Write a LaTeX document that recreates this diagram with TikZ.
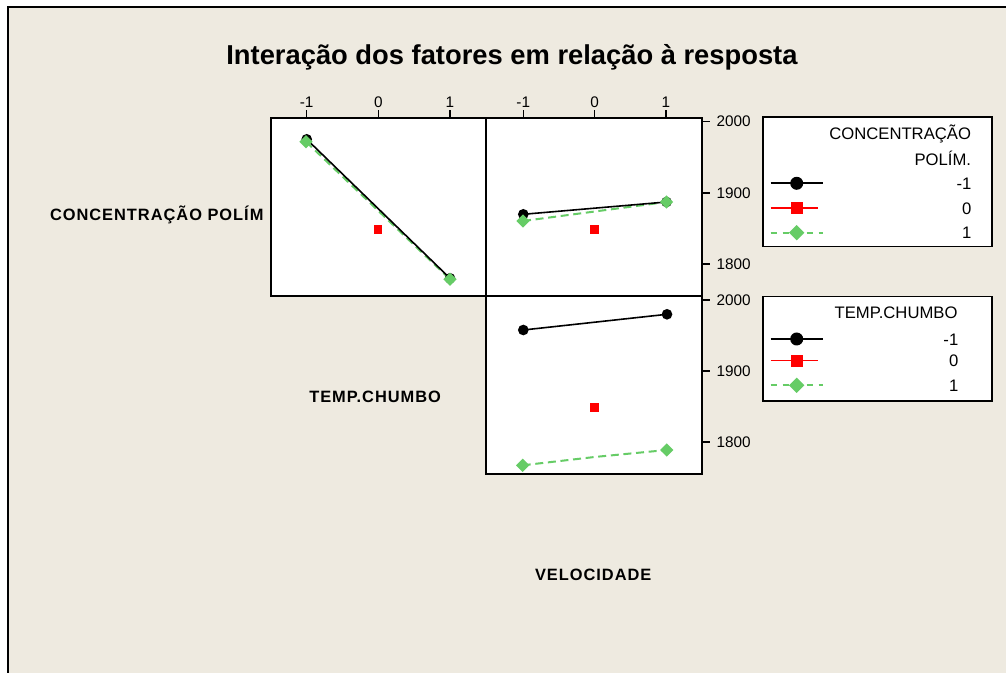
\documentclass[tikz,border=0pt]{standalone}
\usepackage{fontspec}
\setmainfont{Liberation Sans}
\newfontfamily\spacedfont{Liberation Sans}[LetterSpace=6]
\usetikzlibrary{shapes.geometric}
\definecolor{bgcol}{RGB}{238,234,224}
\definecolor{gcol}{RGB}{102,204,102}
\definecolor{rcol}{RGB}{255,0,0}
\pgfdeclarelayer{back}
\pgfdeclarelayer{lines}
\pgfsetlayers{back,lines,main}
\begin{document}
\begin{tikzpicture}[x=0.75pt,y=-0.75pt,
  every node/.style={inner sep=0pt,outer sep=0pt},
  frameline/.style={draw=black,line width=1.5pt},
  panelbox/.style={draw=black,line width=1.4pt,fill=white},
  legbox/.style={draw=black,line width=1.2pt,fill=white},
  tickmark/.style={draw=black,line width=1.1pt},
  blackline/.style={draw=black,line width=1.2pt},
  greenline/.style={draw=gcol,line width=1.5pt,dash pattern=on 6pt off 3.5pt},
  redline/.style={draw=rcol,line width=1.2pt},
  bdot/.style={circle,fill=black,minimum size=8pt},
  rsq/.style={rectangle,fill=rcol,minimum size=6.5pt},
  gdia/.style={diamond,fill=gcol,minimum size=10pt},
  lbdot/.style={circle,fill=black,minimum size=9.75pt},
  lrsq/.style={rectangle,fill=rcol,minimum size=9pt},
  lgdia/.style={diamond,fill=gcol,minimum size=11.5pt},
  ticklabel/.style={font=\fontsize{11.5}{13}\selectfont},
  legtext/.style={font=\fontsize{12.5}{14}\selectfont,anchor=base east},
  rowlabel/.style={font=\spacedfont\bfseries\fontsize{12.3}{14}\selectfont,anchor=base west},
  titletext/.style={font=\bfseries\fontsize{20.5}{24}\selectfont,anchor=base}
]
\useasboundingbox (0,0) rectangle (1006,673);
\begin{pgfonlayer}{back}
\fill[white] (0,0) rectangle (1006,673);
\fill[bgcol] (8,7) rectangle (1006,673);
\draw[frameline] (8,673) -- (8,7) -- (1006,7);
% panels
\draw[panelbox] (271,117.7) rectangle (486,296);
\draw[panelbox] (486,117.7) rectangle (702,296);
\draw[panelbox] (486,296) rectangle (702,474);
% legend boxes
\draw[legbox] (762.7,117.3) rectangle (991.7,246.7);
\draw[legbox] (762.7,296.7) rectangle (991.7,401);
\end{pgfonlayer}

% title
\node[titletext] (title) at (512,65) {Interação dos fatores em relação à resposta};

% top ticks and labels
\foreach \xx/\lab/\nm in {306.7/-1/a,378.3/0/b,450/1/c,523.3/-1/d,594.7/0/e,666/1/f}{
  \draw[tickmark] (\xx,110.5) -- (\xx,117.7);
  \node[ticklabel,anchor=base] (top\nm) at (\xx,107.4) {\lab};
}
% right ticks and labels
\foreach \yy/\lab/\nm in {121.7/2000/a,193/1900/b,264/1800/c,300/2000/d,371/1900/e,442/1800/f}{
  \draw[tickmark] (702,\yy) -- (709.5,\yy);
  \node[ticklabel,anchor=west] (right\nm) at (716.5,\yy) {\lab};
}

% row / column labels
\node[rowlabel] (rowconc) at (50,221) {CONCENTRAÇÃO POLÍM};
\node[rowlabel] (rowtemp) at (309.3,402.3) {TEMP.CHUMBO};
\node[rowlabel] (colvel) at (535,580.7) {VELOCIDADE};

% data coordinates
\coordinate (tlB1) at (306.7,139.3);
\coordinate (tlB2) at (450,278.3);
\coordinate (tlG1) at (306,141.7);
\coordinate (tlG2) at (450,279.3);
\coordinate (tlR) at (378,229.3);
\coordinate (trB1) at (523.3,214.3);
\coordinate (trB2) at (666.5,202);
\coordinate (trG1) at (523,221);
\coordinate (trG2) at (666.5,202);
\coordinate (trR) at (594.5,229.3);
\coordinate (bB1) at (523.3,330);
\coordinate (bB2) at (667,314.3);
\coordinate (bG1) at (522.7,465.3);
\coordinate (bGm) at (594.5,457);
\coordinate (bG2) at (666.7,450);
\coordinate (bR) at (594.7,407.7);

\begin{pgfonlayer}{lines}
\draw[greenline] (tlG1) -- (tlG2);
\draw[blackline] (tlB1) -- (tlB2);
\draw[greenline] (trG1) -- (trG2);
\draw[blackline] (trB1) -- (trB2);
\draw[greenline] (bG1) -- (bGm) -- (bG2);
\draw[blackline] (bB1) -- (bB2);
\end{pgfonlayer}

\node[bdot] (mtlB1) at (tlB1) {};
\node[bdot] (mtlB2) at (tlB2) {};
\node[gdia] (mtlG1) at (tlG1) {};
\node[gdia] (mtlG2) at (tlG2) {};
\node[rsq] (mtlR) at (tlR) {};
\node[bdot] (mtrB1) at (trB1) {};
\node[bdot] (mtrB2) at (trB2) {};
\node[gdia] (mtrG1) at (trG1) {};
\node[gdia] (mtrG2) at (trG2) {};
\node[rsq] (mtrR) at (trR) {};
\node[bdot] (mbB1) at (bB1) {};
\node[bdot] (mbB2) at (bB2) {};
\node[gdia] (mbG1) at (bG1) {};
\node[gdia] (mbG2) at (bG2) {};
\node[rsq] (mbR) at (bR) {};

% legend 1
\node[legtext] (l1t1) at (971,140) {CONCENTRAÇÃO};
\node[legtext] (l1t2) at (971,165.5) {POLÍM.};
\coordinate (l1aA) at (770.7,183.3); \coordinate (l1aB) at (822.7,183.3);
\coordinate (l1bA) at (770.7,208.3); \coordinate (l1bB) at (818,208.3);
\coordinate (l1cA) at (770.7,232.7); \coordinate (l1cB) at (822.7,232.7);
\begin{pgfonlayer}{lines}
\draw[blackline] (l1aA) -- (l1aB);
\draw[redline] (l1bA) -- (l1bB);
\draw[greenline,dash pattern=on 5pt off 4pt] (l1cA) -- (l1cB);
\end{pgfonlayer}
\node[lbdot] (l1m1) at (796.7,183.3) {};
\node[lrsq] (l1m2) at (796.7,208.3) {};
\node[lgdia] (l1m3) at (796.7,232.7) {};
\node[legtext] (l1v1) at (971.5,189.5) {-1};
\node[legtext] (l1v2) at (971.5,214.5) {0};
\node[legtext] (l1v3) at (971.5,239) {1};

% legend 2
\node[legtext] (l2t) at (957.5,318.5) {TEMP.CHUMBO};
\coordinate (l2aA) at (770.7,339); \coordinate (l2aB) at (822.7,339);
\coordinate (l2bA) at (770.7,360.7); \coordinate (l2bB) at (818,360.7);
\coordinate (l2cA) at (770.7,385.3); \coordinate (l2cB) at (822.7,385.3);
\begin{pgfonlayer}{lines}
\draw[blackline] (l2aA) -- (l2aB);
\draw[redline] (l2bA) -- (l2bB);
\draw[greenline,dash pattern=on 5pt off 4pt] (l2cA) -- (l2cB);
\end{pgfonlayer}
\node[lbdot] (l2m1) at (796.7,339) {};
\node[lrsq] (l2m2) at (796.7,360.7) {};
\node[lgdia] (l2m3) at (796.7,385.3) {};
\node[legtext] (l2v1) at (958.3,345) {-1};
\node[legtext] (l2v2) at (958.3,367) {0};
\node[legtext] (l2v3) at (958.3,391.5) {1};
\end{tikzpicture}
\end{document}
